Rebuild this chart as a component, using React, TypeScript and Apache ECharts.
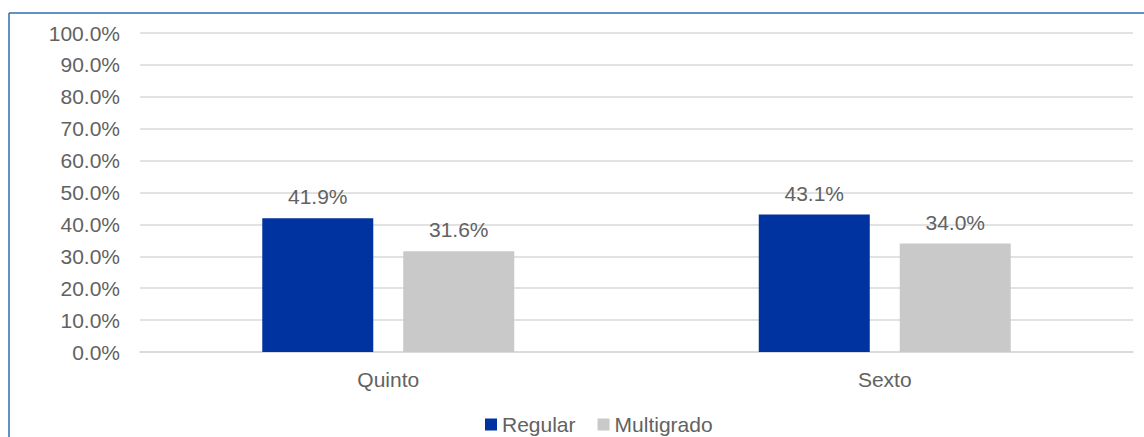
import React, { useEffect, useRef } from "react";
import * as echarts from "echarts";

const categories = ["Quinto", "Sexto"];
const regular = [41.9, 43.1];
const multigrado = [31.6, 34.0];
const seriesNames = ["Regular", "Multigrado"];

export default function App() {
  const ref = useRef<HTMLDivElement>(null);
  useEffect(() => {
    const chart = echarts.init(ref.current!, null, { renderer: "svg" });
    const font = "'Liberation Sans', Arial, sans-serif";
    const textColor = "#626262";
    const labelStyle = {
      show: true,
      position: "top" as const,
      distance: 11,
      color: textColor,
      fontSize: 21,
      fontFamily: font,
      formatter: (p: any) => p.value.toFixed(1) + "%",
    };
    chart.setOption({
      animation: false,
      graphic: [
        { type: "line", shape: { x1: 9, y1: 13, x2: 1144, y2: 13 }, style: { stroke: "#2E6DB4", lineWidth: 1.5 } },
        { type: "line", shape: { x1: 9, y1: 13, x2: 9, y2: 437 }, style: { stroke: "#2E6DB4", lineWidth: 1.5 } },
      ],
      grid: { left: 140, right: 11, top: 33, bottom: 85, containLabel: false },
      legend: {
        top: 409,
        left: 480,
        itemWidth: 12,
        itemHeight: 12,
        itemGap: 22,
        icon: "rect",
        textStyle: { color: textColor, fontSize: 21, fontFamily: font },
        data: seriesNames,
      },
      xAxis: {
        type: "category",
        data: categories,
        axisLine: { lineStyle: { color: "#d9d9d9", width: 1.5 } },
        axisTick: { show: false },
        axisLabel: { color: textColor, fontSize: 21, fontFamily: font, margin: 17 },
      },
      yAxis: {
        type: "value",
        min: 0,
        max: 100,
        interval: 10,
        axisLine: { show: false },
        axisTick: { show: false },
        splitLine: { lineStyle: { color: "#d9d9d9", width: 1.5 } },
        axisLabel: {
          color: textColor,
          fontSize: 21,
          fontFamily: font,
          margin: 20,
          formatter: (v: number) => v.toFixed(1) + "%",
        },
      },
      series: [
        {
          name: seriesNames[0],
          type: "bar",
          data: regular,
          barWidth: 111,
          barGap: "27%",
          itemStyle: { color: "#0033A0" },
          label: labelStyle,
        },
        {
          name: seriesNames[1],
          type: "bar",
          data: multigrado,
          barWidth: 111,
          itemStyle: { color: "#C9C9C9" },
          label: labelStyle,
        },
      ],
    });
    return () => chart.dispose();
  }, []);
  return (
    <div
      ref={ref}
      style={{ position: "absolute", left: 0, top: 0, width: 1144, height: 437, background: "#fff" }}
    />
  );
}
